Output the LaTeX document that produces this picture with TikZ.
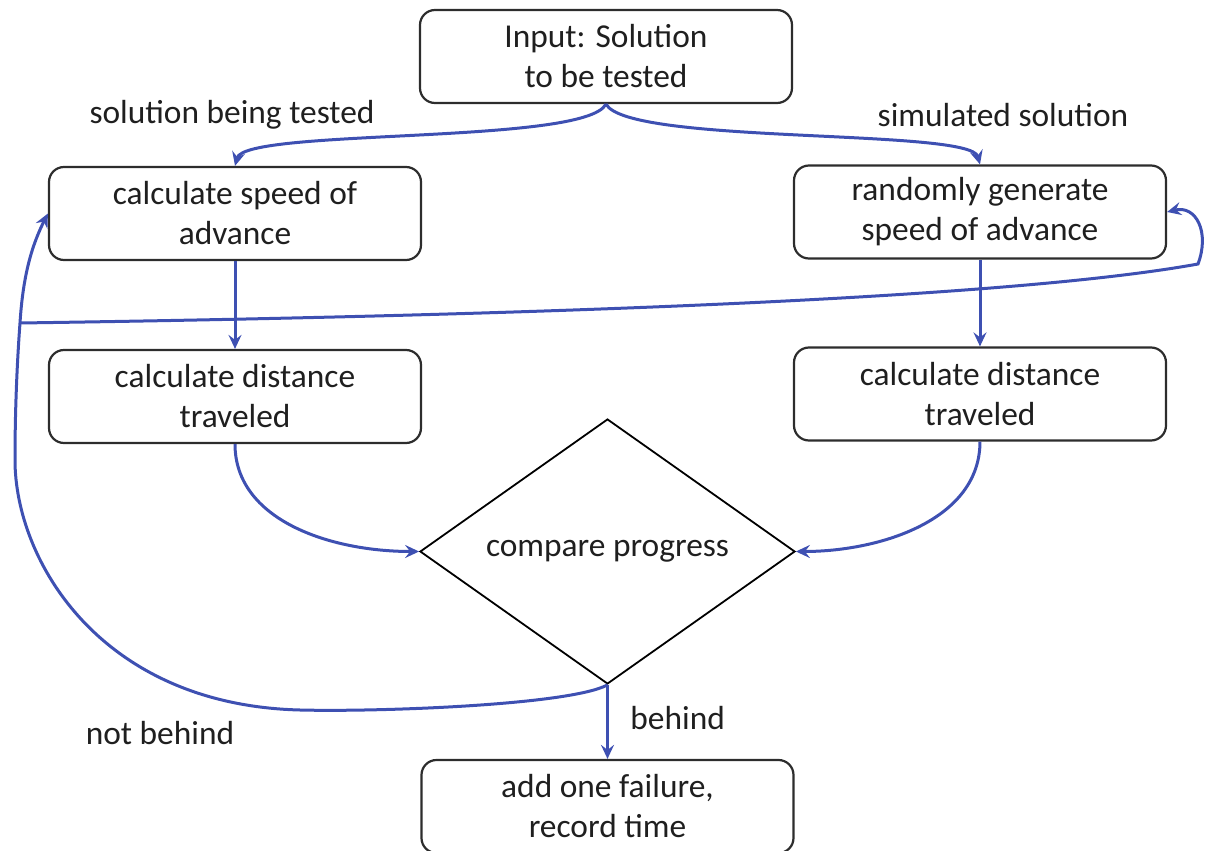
\documentclass[tikz,border=0pt]{standalone}
\usepackage{fontspec}
\setmainfont{Carlito}
\usetikzlibrary{arrows.meta,shapes.geometric}
\definecolor{flowblue}{RGB}{62,80,178}
\definecolor{boxgray}{RGB}{45,45,45}
\begin{document}
\begin{tikzpicture}[x=0.5pt,y=-0.5pt,
    every node/.style={font=\fontsize{16.7}{20}\selectfont, text=black!88},
    box/.style={draw=boxgray, line width=1.1pt, rounded corners=7.5pt, align=center,
      minimum width=186pt, minimum height=46.5pt, inner sep=0pt},
    decision/.style={diamond, draw=black, line width=0.9pt, minimum width=187.5pt,
      minimum height=123.5pt, inner sep=0pt},
    flow/.style={draw=flowblue, line width=1.5pt, -{Stealth[length=7pt,width=6.5pt,inset=2.5pt]}},
    tag/.style={inner sep=0pt}]
    \useasboundingbox (0,0) rectangle (1212,851);
    % boxes
    \node[box] (inp) at (606,56.5) {Input: Solution\\to be tested};
    \node[box] (spd) at (235,213.5) {calculate speed of\\advance};
    \node[box] (rnd) at (980,212) {randomly generate\\speed of advance};
    \node[box] (dl) at (235,396.5) {calculate distance\\traveled};
    \node[box] (dr) at (980,394) {calculate distance\\traveled};
    \node[decision] (cmp) at (607.5,551.5) {compare progress};
    \node[box] (fail) at (607.5,806.5) {add one failure,\\record time};
    % labels
    \node[tag] (ltest) at (232,115) {solution being tested};
    \node[tag] (lsim) at (1003,115) {simulated solution};
    \node[tag, anchor=west] (lbeh) at (630,718) {behind};
    \node[tag] (lnot) at (160,733) {not behind};
    % connectors
    \draw[flow] (inp.south) .. controls (585,145) and (245,128) .. (spd.north);
    \draw[flow] (inp.south) .. controls (628,145) and (970,128) .. (rnd.north);
    \draw[flow] (spd.south) -- (dl.north);
    \draw[flow] (rnd.south) -- (dr.north);
    \draw[flow] (dl.south) .. controls (235,520) and (330,551.5) .. (cmp.west);
    \draw[flow] (dr.south) .. controls (980,520) and (880,551.5) .. (cmp.east);
    \draw[flow] (cmp.south) -- (fail.north);
    \draw[flow] (cmp.south) .. controls (570,705) and (380,712) .. (300,710)
      .. controls (100,705) and (15,560) .. (15,460)
      .. controls (15,400) and (18,350) .. (20,323) coordinate (br)
      .. controls (23,275) and (32,245) .. (spd.west);
    \draw[flow] (br) .. controls (500,316) and (1000,300) .. (1198,264)
      .. controls (1210,232) and (1196,205) .. (rnd.east);
\end{tikzpicture}
\end{document}
